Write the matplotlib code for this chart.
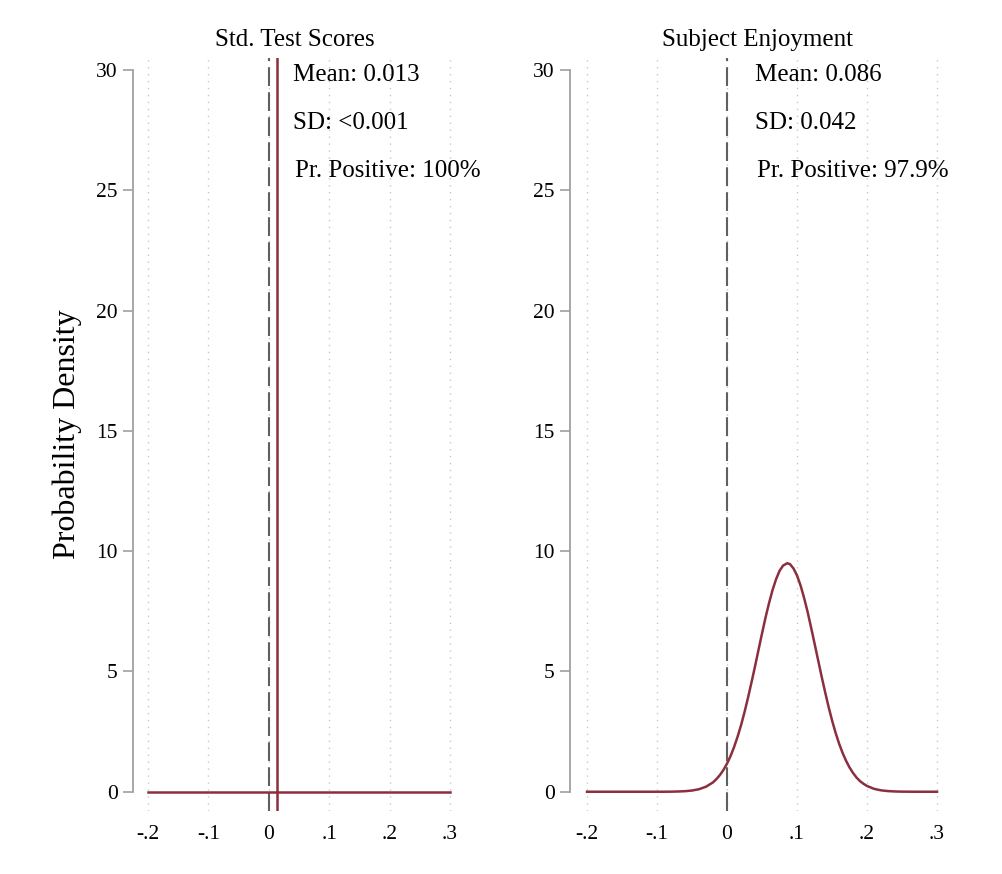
import matplotlib
matplotlib.use("Agg")
import matplotlib.pyplot as plt

plt.rcParams['font.family'] = ['Liberation Serif', 'DejaVu Serif']

# panel 1: std. test scores (point mass, drawn as flat line + spike)
test_x = [-0.2, 0.3]
test_y = [0.0, 0.0]
test_mean = 0.013
test_stats = ['Mean: 0.013', 'SD: <0.001', 'Pr. Positive: 100%']

# panel 2: subject enjoyment, density
enjoy_x = [-0.20, -0.19, -0.18, -0.17, -0.16, -0.15, -0.14, -0.13, -0.12, -0.11,
           -0.10, -0.09, -0.08, -0.07, -0.06, -0.05, -0.04, -0.03,
           -0.02, -0.015, -0.01, -0.005, 0.00, 0.005, 0.01, 0.015, 0.02, 0.025,
           0.03, 0.035, 0.04, 0.045, 0.05, 0.055, 0.06, 0.065, 0.07, 0.075,
           0.08, 0.086, 0.09, 0.095, 0.10, 0.105, 0.11, 0.115, 0.12, 0.125,
           0.13, 0.135, 0.14, 0.145, 0.15, 0.155, 0.16, 0.165, 0.17, 0.175,
           0.18, 0.185, 0.19, 0.195, 0.20,
           0.21, 0.22, 0.23, 0.24, 0.25, 0.26, 0.27, 0.28, 0.29, 0.30]
enjoy_y = [0.0, 0.0, 0.0, 0.0, 0.0, 0.0, 0.0, 0.0, 0.0, 0.0,
           0.0, 0.0, 0.003, 0.01, 0.023, 0.05, 0.105, 0.21,
           0.39, 0.53, 0.70, 0.91, 1.17, 1.48, 1.85, 2.28, 2.76, 3.31,
           3.91, 4.55, 5.21, 5.90, 6.58, 7.24, 7.84, 8.38, 8.83, 9.18,
           9.40, 9.50, 9.46, 9.28, 8.99, 8.58, 8.07, 7.49, 6.84, 6.17,
           5.49, 4.81, 4.16, 3.54, 2.97, 2.46, 2.01, 1.62, 1.29, 1.01,
           0.78, 0.59, 0.44, 0.33, 0.24,
           0.12, 0.058, 0.027, 0.011, 0.004, 0.001, 0.0, 0.0, 0.0, 0.0]
enjoy_stats = ['Mean: 0.086', 'SD: 0.042', 'Pr. Positive: 97.9%']

titles = ['Std. Test Scores', 'Subject Enjoyment']
xticks = [-0.2, -0.1, 0, 0.1, 0.2, 0.3]
xticklabels = ['-.2', '-.1', '0', '.1', '.2', '.3']
yticks = [0, 5, 10, 15, 20, 25, 30]
stat_y = [29.8, 27.8, 25.8]

red = '#8b2f3e'
gray = '#a0a0a0'

fig = plt.figure(figsize=(10.03, 8.74), dpi=100)
bottom, height = 0.0721, 0.8615
ax1 = fig.add_axes([0.1326, bottom, 0.322, height])
ax2 = fig.add_axes([0.5683, bottom, 0.3729, height])

def style(ax, xlo, title):
    ax.set_xlim(xlo, 0.31)
    ax.set_ylim(-0.8, 30.5)
    for s in ['top', 'right', 'bottom']:
        ax.spines[s].set_visible(False)
    ax.spines['left'].set_bounds(0, 30)
    ax.spines['left'].set_color(gray)
    ax.spines['left'].set_linewidth(1.3)
    ax.set_xticks(xticks)
    ax.set_xticklabels(xticklabels)
    ax.set_yticks(yticks)
    ax.tick_params(axis='x', length=0, pad=10, labelsize=15.5)
    ax.tick_params(axis='y', length=7, width=1.2, color=gray, pad=4, labelsize=15.5)
    for xv in xticks:
        ax.axvline(xv, color='#c8c8c8', lw=1.0, ls=(0, (1, 4)), zorder=0)
    ax.axvline(0, color='#606060', lw=1.5, ls=(0, (9, 3)), zorder=1)
    ax.set_title(title, fontsize=18, pad=9)

style(ax1, -0.225, titles[0])
style(ax2, -0.2243, titles[1])

ax1.plot(test_x, test_y, color=red, lw=1.8, zorder=3)
ax1.axvline(test_mean, color=red, lw=1.8, zorder=3)
ax2.plot(enjoy_x, enjoy_y, color=red, lw=1.8, zorder=3)

for ax, stats in [(ax1, test_stats), (ax2, enjoy_stats)]:
    for i, (txt, yy) in enumerate(zip(stats, stat_y)):
        ax.text(0.04 + (0.003 if i == 2 else 0), yy, txt, fontsize=18, va='center', ha='left')

ax1.set_ylabel('Probability Density', fontsize=23, labelpad=10)

fig.savefig('out.png', dpi=100)
